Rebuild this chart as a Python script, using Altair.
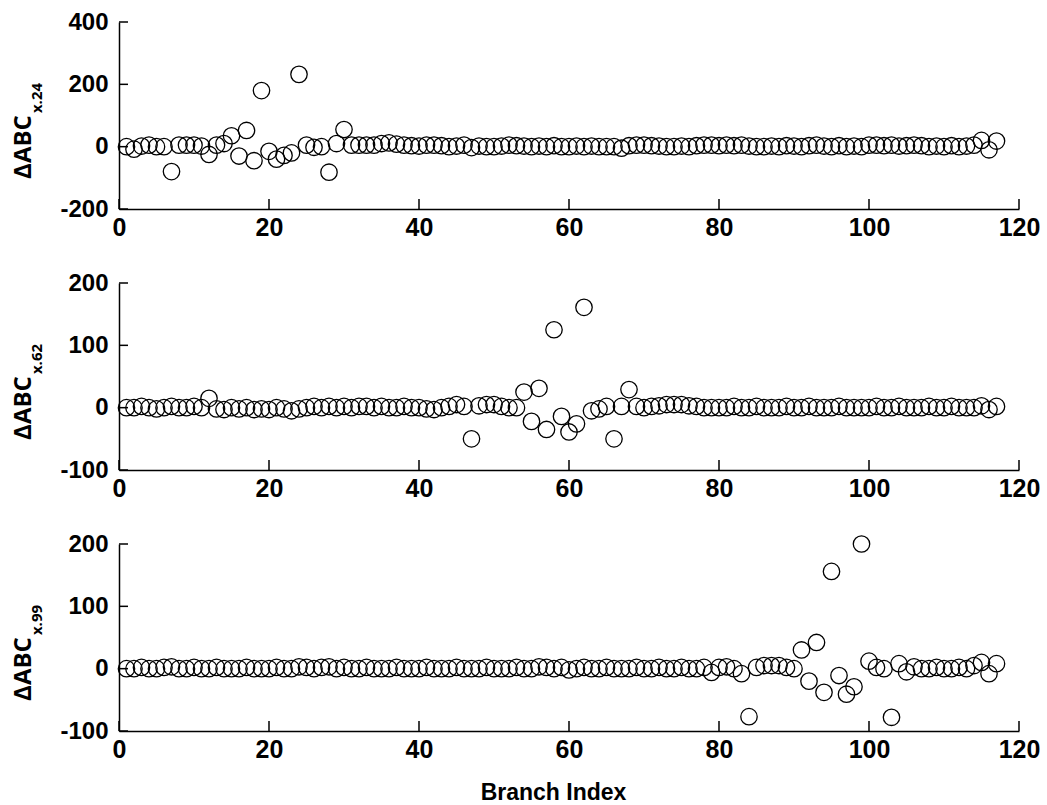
import altair as alt
import pandas as pd

x_index = list(range(1, 118))

abc_24 = [0, -8, 2, 5, 0, 0, -80, 5, 5, 5,
          2, -25, 5, 10, 35, -30, 52, -45, 180, -15,
          -40, -28, -20, 232, 5, -2, 0, -82, 10, 55,
          5, 5, 5, 5, 10, 12, 8, 5, 3, 2,
          5, 5, 3, 0, 2, 5, -3, 2, 0, 0,
          2, 5, 3, 2, 0, 2, 0, 3, 0, 0,
          2, 0, 2, 0, 0, 0, -5, 3, 5, 5,
          3, 2, 0, 0, 2, 0, 3, 5, 5, 3,
          5, 3, 5, 2, 0, 0, 2, 0, 3, 2,
          0, 3, 5, 2, 0, 3, 0, 2, 0, 5,
          5, 3, 5, 2, 3, 5, 3, 0, 2, 0,
          3, 0, 2, 5, 20, -10, 18]

abc_62 = [0, 0, 2, 0, -2, 0, 2, 0, 0, 2,
          0, 15, -2, -3, 0, -2, 0, -3, -2, -3,
          0, -2, -5, -2, 0, 2, 0, 2, 0, 2,
          0, 2, 2, 0, 2, 0, 0, 2, 0, 0,
          -2, -3, 0, 2, 5, 2, -50, 3, 5, 5,
          2, 0, 0, 25, -22, 31, -35, 125, -14, -39,
          -26, 161, -5, -2, 2, -50, 2, 29, 2, 0,
          2, 3, 5, 5, 5, 3, 2, 0, 0, 0,
          0, 2, 0, 0, 2, 0, 0, 0, 2, 0,
          0, 2, 0, 0, 0, 2, 0, 0, 0, 0,
          2, 0, 0, 2, 0, 0, 0, 2, 0, 0,
          2, 0, 0, 0, 3, -3, 2]

abc_99 = [0, 0, 2, 0, 0, 2, 3, 0, 0, 2,
          0, 0, 2, 0, 0, 0, 2, 0, 0, 0,
          2, 0, 0, 3, 2, 0, 2, 3, 0, 2,
          0, 0, 2, 0, 0, 0, 2, 0, 0, 0,
          2, 0, 0, 0, 2, 0, 0, 0, 2, 0,
          0, 0, 2, 0, 0, 3, 2, 0, 2, -2,
          0, 2, 0, 0, 2, 0, 0, 0, 2, 0,
          0, 2, 0, 0, 2, 0, 0, 2, -6, 2,
          3, 0, -8, -77, 2, 5, 5, 5, 2, 0,
          30, -20, 42, -38, 156, -11, -41, -29, 200, 12,
          2, 0, -78, 8, -5, 3, 0, 0, 2, 0,
          0, 2, 0, 5, 10, -8, 8]

x_ticks = [0, 20, 40, 60, 80, 100, 120]
y_ticks_top = [-200, 0, 200, 400]
y_ticks_low = [-100, 0, 100, 200]
y_title_main = "ΔABC"
y_subscripts = ["x.24", "x.62", "x.99"]
x_title = "Branch Index"

W = 900
H = 187
LAB = "Liberation Sans, Arial, sans-serif"
TITLEF = "Open Sans, Noto Sans, sans-serif"


def panel(values, ydom, yticks, sub, last):
    df = pd.DataFrame({"idx": x_index, "val": values})
    xs = alt.Scale(domain=[0, 120], nice=False, zero=False)
    ys = alt.Scale(domain=ydom, nice=False, zero=False)
    xaxis_kw = dict(values=x_ticks, ticks=False, grid=False, labelFont=LAB,
                    labelFontSize=25, labelFontWeight="bold", labelColor="black",
                    labelPadding=6, labelFlush=False, labelOverlap=False,
                    domainColor="black", domainWidth=1.5)
    if last:
        xaxis = alt.Axis(title=x_title, titleFont=LAB, titleFontSize=23,
                         titleFontWeight="bold", titleColor="black",
                         titleX=434, titleY=50, titleBaseline="top",
                         titleAlign="center", **xaxis_kw)
    else:
        xaxis = alt.Axis(title=None, **xaxis_kw)
    yaxis = alt.Axis(values=yticks, ticks=False, grid=False, title=None,
                     labelFont=LAB, labelFontSize=24, labelFontWeight="bold",
                     labelColor="black", labelPadding=11, labelOverlap=False,
                     labelExpr="'' + datum.value",
                     domainColor="black", domainWidth=1.5)
    pts = alt.Chart(df).mark_point(shape="circle", filled=False, color="black",
                                   size=270, strokeWidth=1.3, opacity=1).encode(
        x=alt.X("idx:Q", scale=xs, axis=xaxis),
        y=alt.Y("val:Q", scale=ys, axis=yaxis),
    )
    ytk = alt.Chart(pd.DataFrame({"v": yticks})).mark_rule(
        color="black", strokeWidth=1.5).encode(
        y=alt.Y("v:Q", scale=ys, axis=None),
        x=alt.value(0), x2=alt.value(9),
    )
    xtk = alt.Chart(pd.DataFrame({"t": x_ticks})).mark_rule(
        color="black", strokeWidth=1.5).encode(
        x=alt.X("t:Q", scale=xs, axis=None),
        y=alt.value(H - 10), y2=alt.value(H),
    )
    main = alt.Chart(pd.DataFrame({"s": [y_title_main]})).mark_text(
        font=TITLEF, fontWeight="bold", fontSize=24, angle=270,
        align="center", baseline="middle", color="black").encode(
        text="s:N", x=alt.value(-95), y=alt.value(125))
    subt = alt.Chart(pd.DataFrame({"s": [sub]})).mark_text(
        font=TITLEF, fontWeight="bold", fontSize=15, angle=270,
        align="center", baseline="middle", color="black").encode(
        text="s:N", x=alt.value(-82), y=alt.value(76))
    return alt.layer(pts, ytk, xtk, main, subt).resolve_axis(
        x="independent", y="independent").properties(width=W, height=H)


p1 = panel(abc_24, [-200, 400], y_ticks_top, y_subscripts[0], False)
p2 = panel(abc_62, [-100, 200], y_ticks_low, y_subscripts[1], False)
p3 = panel(abc_99, [-100, 200], y_ticks_low, y_subscripts[2], True)

chart = alt.vconcat(p1, p2, p3, spacing=74, bounds="flush").properties(
    padding={"left": 12, "top": 10, "right": 5, "bottom": 5},
    background="white",
).configure_view(stroke=None)

chart.save("out.html", embed_options={"renderer": "svg", "actions": False})
